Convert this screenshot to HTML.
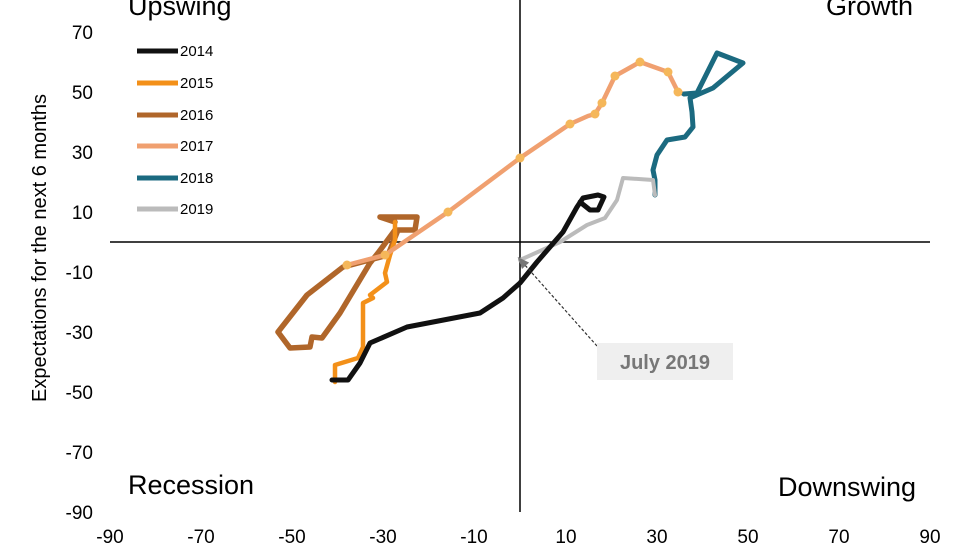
<!DOCTYPE html><html><head><style>body{margin:0;background:#fff}svg{display:block}text{font-family:"Liberation Sans",sans-serif}</style></head><body>
<svg width="980" height="550" viewBox="0 0 980 550">
<defs><marker id="ar" markerWidth="10" markerHeight="10" refX="2" refY="5" orient="auto-start-reverse"><path d="M0,1 L10,5 L0,9z" fill="#777"/></marker></defs>
<line x1="110" y1="242" x2="930" y2="242" stroke="#000" stroke-width="1.5"/>
<line x1="520" y1="0" x2="520" y2="512" stroke="#000" stroke-width="1.5"/>
<g font-size="19" fill="#000" text-anchor="end">
<text x="93" y="39">70</text><text x="93" y="99">50</text><text x="93" y="159">30</text><text x="93" y="219">10</text><text x="93" y="279">-10</text><text x="93" y="339">-30</text><text x="93" y="399">-50</text><text x="93" y="459">-70</text><text x="93" y="519">-90</text></g>
<g font-size="19" text-anchor="middle">
<text x="110" y="543">-90</text><text x="201" y="543">-70</text><text x="292" y="543">-50</text><text x="383" y="543">-30</text><text x="474" y="543">-10</text><text x="566" y="543">10</text><text x="657" y="543">30</text><text x="748" y="543">50</text><text x="839" y="543">70</text><text x="930" y="543">90</text></g>
<text transform="translate(46,248) rotate(-90)" font-size="20" text-anchor="middle">Expectations for the next 6 months</text>
<g font-size="27"><text x="128" y="15">Upswing</text><text x="826" y="15">Growth</text><text x="128" y="494">Recession</text><text x="778" y="496">Downswing</text></g>
<g fill="none" stroke-linejoin="round" stroke-linecap="round">
<polyline stroke="#b0662a" stroke-width="5.5" points="395,222 380,217 417,217 415,230 398,230 388,255 343,267 307,295 278,332 290,348 310,347 312,337 322,338 340,313 370,263 378,253 395,230"/>
<polyline stroke="#f39019" stroke-width="4.5" points="335,382 335,365 358,358 363,347 363,303 373,298 370,295 387,282 385,273 390,255 395,240 395,222"/>
<polyline stroke="#f0a070" stroke-width="4.5" points="347,265 385,255 448,212 520,158 570,124 588,116 595,114 602,103 615,76 640,62 668,72 678,92 684,94"/>
<polyline stroke="#1b6a80" stroke-width="5" points="684,94 697,93 717,53 743,63 713,88 690,98 692,112 693,127 685,137 667,140 657,155 653,170 655,180 655,195"/>
<polyline stroke="#bbb" stroke-width="4" points="655,195 653,180 623,178 617,200 605,218 587,225 560,242 520,260"/>
<polyline stroke="#111" stroke-width="5" points="332,380 348,380 360,363 370,343 407,327 480,313 503,298 520,283 537,262 563,232 577,207 583,198 598,195 604,197 598,210 590,210 580,202"/>
</g>
<g fill="#f5b75a"><circle cx="347" cy="265" r="4.5"/><circle cx="385" cy="255" r="4.5"/><circle cx="448" cy="212" r="4.5"/><circle cx="520" cy="158" r="4.5"/><circle cx="570" cy="124" r="4.5"/><circle cx="595" cy="114" r="4.5"/><circle cx="602" cy="103" r="4.5"/><circle cx="615" cy="76" r="4.5"/><circle cx="640" cy="62" r="4.5"/><circle cx="668" cy="72" r="4.5"/><circle cx="678" cy="92" r="4.5"/></g>
<line x1="597" y1="346" x2="524" y2="264" stroke="#333" stroke-width="1.2" stroke-dasharray="3,2" marker-end="url(#ar)"/>
<rect x="597" y="343" width="136" height="37" fill="#efefef"/>
<text x="665" y="369" font-size="20" font-weight="bold" fill="#777" text-anchor="middle">July 2019</text>
<g stroke-width="5" font-size="15">
<line x1="137" y1="51" x2="178" y2="51" stroke="#111"/><text x="180" y="56" stroke="none">2014</text>
<line x1="137" y1="83" x2="178" y2="83" stroke="#f39019"/><text x="180" y="88" stroke="none">2015</text>
<line x1="137" y1="115" x2="178" y2="115" stroke="#b0662a"/><text x="180" y="120" stroke="none">2016</text>
<line x1="137" y1="146" x2="178" y2="146" stroke="#f0a070"/><text x="180" y="151" stroke="none">2017</text>
<line x1="137" y1="178" x2="178" y2="178" stroke="#1b6a80"/><text x="180" y="183" stroke="none">2018</text>
<line x1="137" y1="209" x2="178" y2="209" stroke="#bbb"/><text x="180" y="214" stroke="none">2019</text>
</g>
</svg></body></html>
